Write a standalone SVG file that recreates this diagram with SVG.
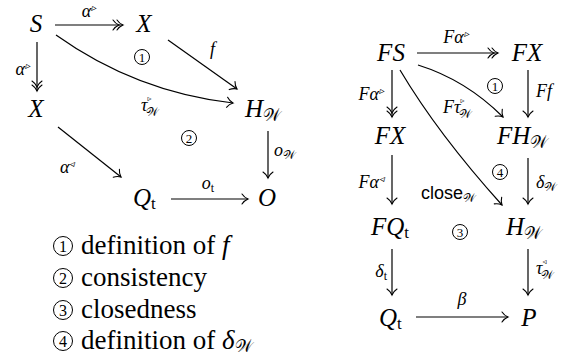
<svg xmlns="http://www.w3.org/2000/svg" width="564" height="358" viewBox="0 0 564 358" font-family="Liberation Serif, serif">
<style>
text{fill:#000}
.m{font-style:italic;font-size:25px}
.l{font-style:italic;font-size:18px}
.up{font-style:normal}
.cal{font-family:"DejaVu Serif",serif;font-style:normal}
.lg{font-size:27px}
.e{fill:none;stroke:#000;stroke-width:1.2}
.c{fill:none;stroke:#000;stroke-width:1}
.d{font-size:13px;text-anchor:middle}
.dl{font-size:16px;text-anchor:middle}
.mid{text-anchor:middle}
.end{text-anchor:end}
</style>
<defs>
<marker id="to" orient="auto" markerUnits="userSpaceOnUse" overflow="visible"><path d="M-6,-5 C-4,-2 -1.5,-0.6 0,0 C-1.5,0.6 -4,2 -6,5" fill="none" stroke="#000" stroke-width="1.1" stroke-linecap="round"/></marker>
<marker id="two" orient="auto" markerUnits="userSpaceOnUse" overflow="visible"><path d="M-6,-5 C-4,-2 -1.5,-0.6 0,0 C-1.5,0.6 -4,2 -6,5 M-10,-5 C-8,-2 -5.5,-0.6 -4,0 C-5.5,0.6 -8,2 -10,5" fill="none" stroke="#000" stroke-width="1.1" stroke-linecap="round"/></marker>
</defs>

<g id="connectors">
<line class="e" x1="55" y1="25" x2="123" y2="25" marker-end="url(#two)"/>
<line class="e" x1="37" y1="42" x2="37" y2="91" marker-end="url(#two)"/>
<line class="e" x1="168" y1="40" x2="237" y2="89" marker-end="url(#to)"/>
<path class="e" d="M56,35 Q136,92 233,103" marker-end="url(#to)"/>
<line class="e" x1="58" y1="127" x2="121" y2="177" marker-end="url(#to)"/>
<line class="e" x1="268" y1="131" x2="268" y2="178" marker-end="url(#to)"/>
<line class="e" x1="171" y1="199" x2="248" y2="199" marker-end="url(#to)"/>
<line class="e" x1="417" y1="53" x2="498" y2="53" marker-end="url(#two)"/>
<line class="e" x1="392" y1="70" x2="392" y2="117" marker-end="url(#two)"/>
<line class="e" x1="528" y1="70" x2="528" y2="117" marker-end="url(#to)"/>
<path class="e" d="M418,65 Q466,80 503,117" marker-end="url(#to)"/>
<path class="e" d="M400,70 Q438,134 502,205" marker-end="url(#to)"/>
<line class="e" x1="392" y1="155" x2="392" y2="204" marker-end="url(#to)"/>
<line class="e" x1="528" y1="158" x2="528" y2="204" marker-end="url(#to)"/>
<line class="e" x1="392" y1="249" x2="392" y2="295" marker-end="url(#to)"/>
<line class="e" x1="528" y1="249" x2="528" y2="295" marker-end="url(#to)"/>
<line class="e" x1="416" y1="317" x2="508" y2="317" marker-end="url(#to)"/>
</g>

<g id="edge-labels">
<text class="l mid" x="89" y="17">α<tspan font-size="10" dy="-6">▹</tspan></text>
<text class="l end" x="30" y="75">α<tspan font-size="10" dy="-6">▹</tspan></text>
<text class="l" x="210" y="55">f</text>
<text class="l" x="141" y="111">τ<tspan class="cal" font-size="8" dy="-10">▹</tspan><tspan class="cal" font-size="12" dx="-5" dy="15">𝒲</tspan></text>
<text class="l" x="60" y="173">α<tspan font-size="10" dy="-6">◃</tspan></text>
<text class="l" x="274" y="156">o<tspan class="cal" font-size="12" dy="3">𝒲</tspan></text>
<text class="l mid" x="208" y="189">o<tspan class="up" font-size="12" dy="3">t</tspan></text>

<text class="l mid" x="456" y="43">Fα<tspan font-size="10" dy="-6">▹</tspan></text>
<text class="l end" x="384" y="100">Fα<tspan font-size="10" dy="-6">▹</tspan></text>
<text class="l" x="536" y="97">Ff</text>
<text class="l" x="443" y="113">Fτ<tspan class="cal" font-size="8" dy="-10">▹</tspan><tspan class="cal" font-size="12" dx="-5" dy="15">𝒲</tspan></text>
<text class="l" x="421" y="199"><tspan font-family="Liberation Sans, sans-serif" font-style="normal">close</tspan><tspan class="cal" font-size="12" dy="3">𝒲</tspan></text>
<text class="l end" x="384" y="188">Fα<tspan font-size="10" dy="-6">◃</tspan></text>
<text class="l" x="536" y="188">δ<tspan class="cal" font-size="12" dy="3">𝒲</tspan></text>
<text class="l end" x="387" y="277">δ<tspan class="up" font-size="12" dy="3">t</tspan></text>
<text class="l" x="536" y="274">τ<tspan class="cal" font-size="8" dy="-10">◃</tspan><tspan class="cal" font-size="12" dx="-5" dy="15">𝒲</tspan></text>
<text class="l mid" x="462" y="305">β</text>
</g>

<g id="cells">
<circle class="c" cx="142" cy="57" r="7.5"/><text class="d" x="142" y="61.5">1</text>
<circle class="c" cx="189" cy="138" r="7.5"/><text class="d" x="189" y="142.5">2</text>
<circle class="c" cx="495" cy="86" r="7.5"/><text class="d" x="495" y="90.5">1</text>
<circle class="c" cx="500" cy="172" r="7.5"/><text class="d" x="500" y="176.5">4</text>
<circle class="c" cx="460" cy="232" r="7.5"/><text class="d" x="460" y="236.5">3</text>
</g>

<g id="n-S"><text class="m mid" x="36" y="32">S</text></g>
<g id="n-X1"><text class="m mid" x="144" y="32">X</text></g>
<g id="n-X2"><text class="m mid" x="36" y="117">X</text></g>
<g id="n-HW"><text class="m" x="245" y="117">H<tspan class="cal" font-size="17" dy="4">𝒲</tspan></text></g>
<g id="n-Qt"><text class="m" x="133" y="206">Q<tspan class="up" font-size="17" dy="3">t</tspan></text></g>
<g id="n-O"><text class="m mid" x="267" y="206">O</text></g>

<g id="n-FS"><text class="m mid" x="391" y="61">FS</text></g>
<g id="n-FX1"><text class="m mid" x="527" y="61">FX</text></g>
<g id="n-FX2"><text class="m mid" x="390" y="144">FX</text></g>
<g id="n-FHW"><text class="m" x="497" y="144">FH<tspan class="cal" font-size="17" dy="4">𝒲</tspan></text></g>
<g id="n-FQt"><text class="m" x="371" y="235">FQ<tspan class="up" font-size="17" dy="3">t</tspan></text></g>
<g id="n-HW2"><text class="m" x="506" y="235">H<tspan class="cal" font-size="17" dy="4">𝒲</tspan></text></g>
<g id="n-Qt2"><text class="m" x="379" y="326">Q<tspan class="up" font-size="17" dy="3">t</tspan></text></g>
<g id="n-P"><text class="m mid" x="529" y="326">P</text></g>

<g id="legend">
<circle class="c" cx="63" cy="246" r="9.5"/><text class="dl" x="63" y="251.5">1</text>
<text class="lg" x="81" y="254">definition of <tspan font-style="italic">f</tspan></text>
<circle class="c" cx="63" cy="278" r="9.5"/><text class="dl" x="63" y="283.5">2</text>
<text class="lg" x="81" y="286">consistency</text>
<circle class="c" cx="63" cy="310" r="9.5"/><text class="dl" x="63" y="315.5">3</text>
<text class="lg" x="81" y="318">closedness</text>
<circle class="c" cx="63" cy="341" r="9.5"/><text class="dl" x="63" y="346.5">4</text>
<text class="lg" x="81" y="349">definition of <tspan font-style="italic">δ</tspan><tspan class="cal" font-size="17" dy="3">𝒲</tspan></text>
</g>
</svg>
